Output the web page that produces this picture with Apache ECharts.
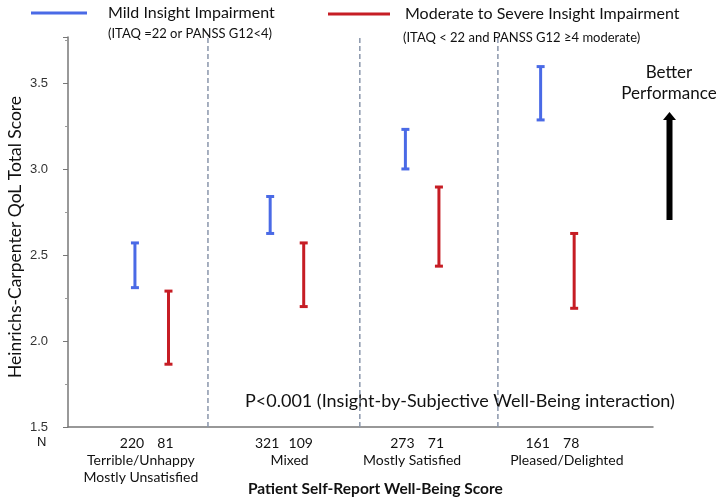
<!DOCTYPE html>
<html>
<head>
<meta charset="utf-8">
<script src="https://cdn.jsdelivr.net/npm/echarts@6/dist/echarts.min.js"></script>
<style>html,body{margin:0;padding:0;background:#fff}#c{width:722px;height:500px}</style>
</head>
<body>
<div id="c"></div>
<script>
// ---- data ----
const categories = ['Terrible/Unhappy\nMostly Unsatisfied', 'Mixed', 'Mostly Satisfied', 'Pleased/Delighted'];
const seriesNames = ['Mild Insight Impairment', 'Moderate to Severe Insight Impairment'];
const mildLow  = [2.31, 2.625, 3.00, 3.285];
const mildHigh = [2.57, 2.84, 3.23, 3.595];
const modLow   = [1.865, 2.20, 2.435, 2.19];
const modHigh  = [2.29, 2.57, 2.895, 2.625];
const mildN = [220, 321, 273, 161];
const modN  = [81, 109, 71, 78];
const yTicks = [1.5, 2.0, 2.5, 3.0, 3.5];

// ---- layout ----
const yMin = 1.5, yMax = 3.767;
const barOffset = 0.124;
const dividerPos = [0.416, 1.539, 2.56];
const catLabelPos = [-0.08, 1.02, 1.925, 3.07];
const BLUE = '#4a6ae6', RED = '#c61d24';
const FONT = 'Lato, "Open Sans", sans-serif';

function errData(lo, hi, off) {
  return lo.map((v, i) => [i + off, v, hi[i], (off < 0 ? mildN : modN)[i]]);
}

function errRender(color) {
  return function (params, api) {
    const x = api.value(0), lo = api.value(1), hi = api.value(2), n = api.value(3);
    const a = api.coord([x, lo]), b = api.coord([x, hi]);
    const base = api.coord([x, yMin]);
    const hw = 4;
    const st = { stroke: color, lineWidth: 3 };
    return {
      type: 'group',
      children: [
        { type: 'line', shape: { x1: a[0], y1: a[1], x2: b[0], y2: b[1] }, style: st },
        { type: 'line', shape: { x1: a[0] - hw, y1: a[1], x2: a[0] + hw, y2: a[1] }, style: st },
        { type: 'line', shape: { x1: b[0] - hw, y1: b[1], x2: b[0] + hw, y2: b[1] }, style: st },
        { type: 'text', style: { text: String(n), x: a[0] - 3, y: base[1] + 16, align: 'center', verticalAlign: 'middle',
            fill: '#111', font: '14px ' + FONT } }
      ]
    };
  };
}

const chart = echarts.init(document.getElementById('c'));
chart.setOption({
  animation: false,
  backgroundColor: '#fff',
  grid: { left: 68, right: 69, top: 37, bottom: 73, containLabel: false, outerBoundsMode: 'none' },
  legend: [
    { data: [seriesNames[0]], left: 31, top: 5, padding: 0, icon: 'rect', itemWidth: 56, itemHeight: 3,
      textStyle: { fontSize: 16, color: '#111', fontFamily: FONT, padding: [0, 0, 0, 16] } },
    { data: [seriesNames[1]], left: 328, top: 6, padding: 0, icon: 'rect', itemWidth: 62, itemHeight: 3,
      textStyle: { fontSize: 16, color: '#111', fontFamily: FONT, padding: [0, 0, 0, 10] } }
  ],
  xAxis: {
    type: 'value', min: -0.619, max: 3.707,
    axisLine: { show: true, onZero: false, lineStyle: { color: '#777', width: 1.5 } },
    axisTick: { show: false }, axisLabel: { show: false }, splitLine: { show: false }
  },
  yAxis: {
    type: 'value', min: yMin, max: yMax, interval: 0.5,
    name: 'Heinrichs-Carpenter QoL Total Score', nameLocation: 'middle', nameGap: 44, nameMoveOverlap: false,
    nameTextStyle: { fontSize: 17.5, color: '#111', fontFamily: FONT, padding: [0, 10, 0, 0] },
    axisLine: { show: true, onZero: false, lineStyle: { color: '#777', width: 1.5 } },
    axisTick: { show: true, length: 5, lineStyle: { color: '#777' } },
    minorTick: { show: true, splitNumber: 2, length: 3, lineStyle: { color: '#999' } },
    axisLabel: {
      margin: 20, fontSize: 13, color: '#333', fontFamily: '"Liberation Sans", Arial, sans-serif',
      formatter: v => yTicks.some(t => Math.abs(t - v) < 1e-6) ? v.toFixed(1) : ''
    },
    splitLine: { show: false }
  },
  series: [
    {
      name: 'dividers', type: 'custom', silent: true, z: 1,
      data: dividerPos.map(x => [x]),
      renderItem: (params, api) => {
        const a = api.coord([api.value(0), yMin]), b = api.coord([api.value(0), yMax]);
        return { type: 'line', shape: { x1: a[0], y1: a[1], x2: b[0], y2: b[1] },
          style: { stroke: '#8a96ab', lineWidth: 1.5, lineDash: [5, 3] } };
      }
    },
    {
      name: 'categories', type: 'custom', silent: true,
      data: catLabelPos.map((x, i) => [x, i]),
      renderItem: (params, api) => {
        const p = api.coord([api.value(0), yMin]);
        return { type: 'text', style: { text: categories[api.value(1)], x: p[0], y: p[1] + 25,
          align: 'center', verticalAlign: 'top', lineHeight: 17, fill: '#111', font: '14px ' + FONT } };
      }
    },
    { name: seriesNames[0], type: 'custom', itemStyle: { color: BLUE }, data: errData(mildLow, mildHigh, -barOffset),
      renderItem: errRender(BLUE), z: 3 },
    { name: seriesNames[1], type: 'custom', itemStyle: { color: RED }, data: errData(modLow, modHigh, barOffset),
      renderItem: errRender(RED), z: 3 }
  ],
  graphic: [
    { type: 'text', left: 108, top: 27, style: { text: '(ITAQ =22 or PANSS G12<4)', fill: '#111', font: '13px ' + FONT } },
    { type: 'text', left: 403, top: 31, style: { text: '(ITAQ < 22 and PANSS G12 \u22654 moderate)', fill: '#111', font: '13px ' + FONT } },
    { type: 'text', left: 37, top: 436, style: { text: 'N', fill: '#111', font: '13px "Liberation Sans", Arial, sans-serif' } },
    { type: 'text', left: 245, top: 392, style: { text: 'P<0.001 (Insight-by-Subjective Well-Being interaction)', fill: '#111', font: '18px ' + FONT } },
    { type: 'text', left: 248, top: 481, style: { text: 'Patient Self-Report Well-Being Score', fill: '#111', font: 'bold 15.5px ' + FONT } },
    { type: 'text', x: 669, y: 62, style: { text: 'Better\nPerformance', align: 'center', lineHeight: 21, fill: '#111', font: '17px ' + FONT } },
    { type: 'polygon', shape: { points: [[666.5, 220], [672.5, 220], [672.5, 120], [676, 120], [669.5, 112], [663, 120], [666.5, 120]] },
      style: { fill: '#000' } }
  ]
});
</script>
</body>
</html>
